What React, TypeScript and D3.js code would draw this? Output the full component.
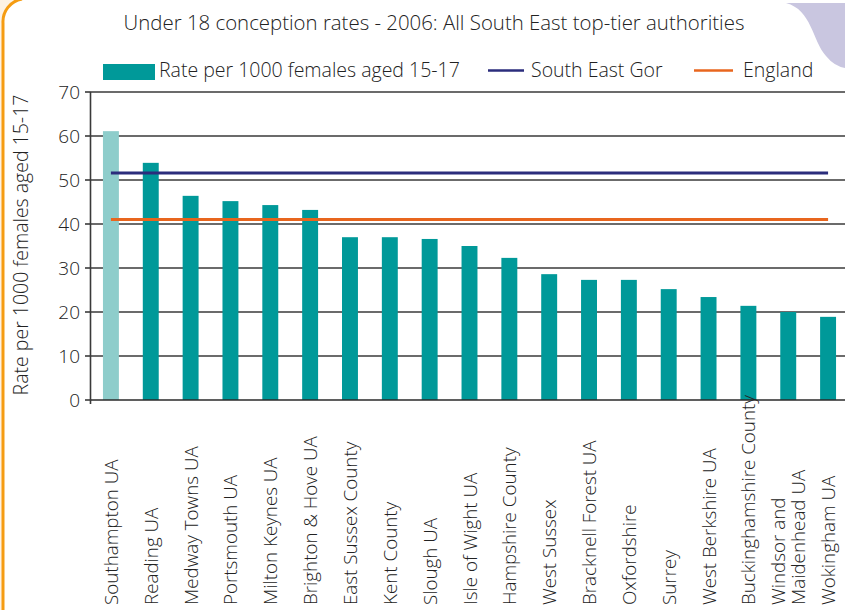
import React from "react";
import * as d3 from "d3";

const categories: string[][] = [
  ["Southampton UA"], ["Reading UA"], ["Medway Towns UA"], ["Portsmouth UA"],
  ["Milton Keynes UA"], ["Brighton & Hove UA"], ["East Sussex County"], ["Kent County"],
  ["Slough UA"], ["Isle of Wight UA"], ["Hampshire County"], ["West Sussex"],
  ["Bracknell Forest UA"], ["Oxfordshire"], ["Surrey"], ["West Berkshire UA"],
  ["Buckinghamshire County"], ["Windsor and", "Maidenhead UA"], ["Wokingham UA"],
];
const rates: number[] = [61.1, 53.9, 46.4, 45.2, 44.3, 43.2, 37.0, 37.0, 36.6, 35.0, 32.3, 28.6, 27.3, 27.3, 25.2, 23.4, 21.4, 20.0, 18.9];
const southEast: number = 51.6;
const england: number = 41.0;
const yTicks: number[] = [0, 10, 20, 30, 40, 50, 60, 70];

const W = 845, H = 610;
const FONT = "'Open Sans', 'Noto Sans', sans-serif";

export default function App() {
  const left = 91, right = 848, top = 92, bottom = 400;
  const x = d3.scaleBand<number>().domain(d3.range(categories.length)).range([left, right]).paddingInner(0.6).paddingOuter(0.3);
  const y = d3.scaleLinear().domain([0, 70]).range([bottom, top]);
  const cx = (i: number) => (x(i) as number) + x.bandwidth() / 2;
  const x0 = cx(0), x1 = cx(categories.length - 1);
  return (
    <svg width={W} height={H} style={{ position: "absolute", left: 0, top: 0, background: "#fff" }} fontFamily={FONT} fontWeight={350}>
      {/* decorative frame */}
      <path d={`M0,0 L22,0 A24,24 0 0 0 3,24 L3,${H} L0,${H} Z`} fill="#fdf2e4" />
      <path d={`M3,${H} L3,23 A23,23 0 0 1 22,-1`} fill="none" stroke="#f59c12" strokeWidth={3} />
      <path d="M786,3 C812,10 812,40 826,56 Q834,66 845,68 L845,3 Z" fill="#c9c6e0" />
      {/* title */}
      <text x={434} y={30} textAnchor="middle" fontSize={20.4} fill="#222">Under 18 conception rates - 2006: All South East top-tier authorities</text>
      {/* legend */}
      <rect x={103} y={64} width={52} height={16} fill="#009999" />
      <text x={159} y={77} fontSize={19.5} fill="#222">Rate per 1000 females aged 15-17</text>
      <line x1={488} x2={524} y1={70.5} y2={70.5} stroke="#2b2d7c" strokeWidth={2.5} />
      <text x={531} y={77} fontSize={19.5} fill="#222">South East Gor</text>
      <line x1={694} x2={733} y1={70.5} y2={70.5} stroke="#e8661e" strokeWidth={2.5} />
      <text x={743} y={77} fontSize={19.5} fill="#222">England</text>
      {/* grid */}
      {yTicks.map((t) => (
        <g key={t}>
          {t > 0 && <line x1={left} x2={W} y1={y(t)} y2={y(t)} stroke="#3a3a3a" strokeWidth={1.6} />}
          <line x1={85} x2={left} y1={y(t)} y2={y(t)} stroke="#3a3a3a" strokeWidth={1.6} />
          <text x={80} y={y(t) + 6.5} textAnchor="end" fontSize={19} fill="#222">{t}</text>
        </g>
      ))}
      <line x1={left - 0.5} x2={left - 0.5} y1={top} y2={bottom + 4} stroke="#3a3a3a" strokeWidth={1.6} />
      <text transform={`translate(28,${(top + bottom) / 2 - 1}) rotate(-90)`} textAnchor="middle" fontSize={19.5} fill="#222">Rate per 1000 females aged 15-17</text>
      {/* bars */}
      {rates.map((v, i) => (
        <rect key={i} x={x(i)} y={y(v)} width={x.bandwidth()} height={y(0) - y(v)} fill={i === 0 ? "#8ecdcb" : "#009999"} />
      ))}
      <line x1={left} x2={W} y1={bottom} y2={bottom} stroke="#2a2a2a" strokeWidth={1.6} />
      {/* reference lines */}
      <line x1={x0} x2={x1} y1={y(southEast)} y2={y(southEast)} stroke="#2b2d7c" strokeWidth={3} />
      <line x1={x0} x2={x1} y1={y(england)} y2={y(england)} stroke="#e8661e" strokeWidth={3} />
      {/* category labels */}
      {categories.map((lines, i) => (
        <text key={i} transform={`translate(${cx(i)},605) rotate(-90)`} fontSize={18.8} fill="#222">
          {lines.map((l, j) => (
            <tspan key={j} x={0} dy={j === 0 ? (lines.length === 1 ? 7 : -3) : 20}>{l}</tspan>
          ))}
        </text>
      ))}
    </svg>
  );
}
